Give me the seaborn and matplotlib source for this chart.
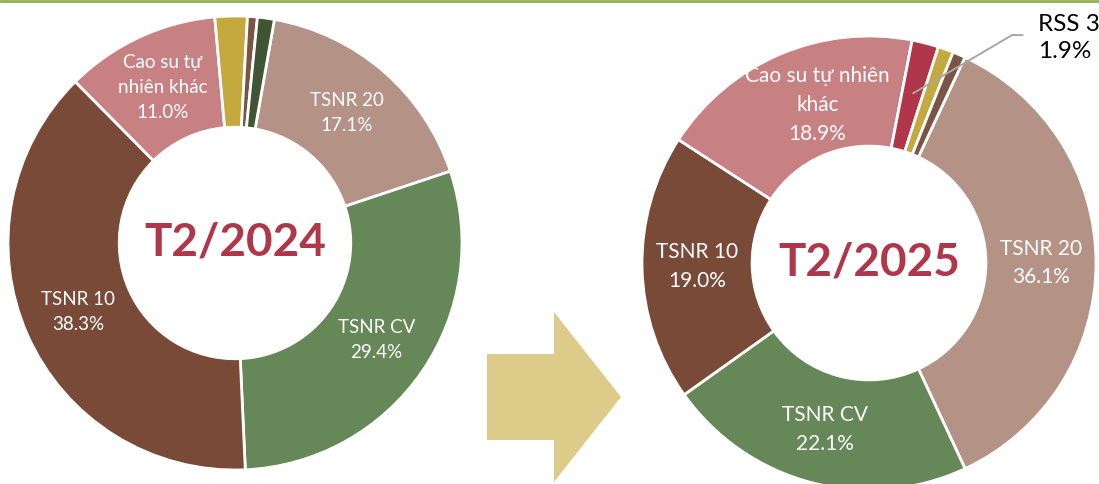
import numpy as np
import matplotlib
matplotlib.use("Agg")
import matplotlib.pyplot as plt
from matplotlib.patches import Polygon
import seaborn as sns

sns.set_theme(style="white")
plt.rcParams["font.family"] = ["Lato", "DejaVu Sans"]

# Rubber export structure by product type (share of volume, %)
categories_2024 = ["TSNR 20", "TSNR CV", "TSNR 10", "Cao su tự nhiên khác",
                   "Khác 1", "Khác 2", "Khác 3"]
shares_2024 = [17.1, 29.4, 38.3, 11.0, 2.3, 0.7, 1.2]
labels_2024 = ["TSNR 20", "TSNR CV", "TSNR 10", "Cao su tự\nnhiên khác",
               None, None, None]

categories_2025 = ["TSNR 20", "TSNR CV", "TSNR 10", "Cao su tự nhiên khác",
                   "RSS 3", "Khác 1", "Khác 2"]
shares_2025 = [36.1, 22.1, 19.0, 18.9, 1.9, 1.1, 0.9]
labels_2025 = ["TSNR 20", "TSNR CV", "TSNR 10", "Cao su tự nhiên\nkhác",
               None, None, None]

colors_2024 = ["#b49285", "#668757", "#7a4a38", "#c88183",
               "#c4a93f", "#7a5545", "#3f5533"]
colors_2025 = ["#b49285", "#668757", "#7a4a38", "#c88183",
               "#b0374a", "#c4a93f", "#7a5545"]

titles = ["T2/2024", "T2/2025"]

W, H = 1099, 484
fig = plt.figure(figsize=(W / 100, H / 100), dpi=100)


def px_axes(cx, cy, r):
    """Square axes whose data range (-1, 1) spans a circle of radius r px."""
    return fig.add_axes([(cx - r) / W, (H - cy - r) / H, 2 * r / W, 2 * r / H])


def donut(ax, values, colors, labels, title, start_cw, inner, fs, nudge=None):
    nudge = nudge or {}
    wedges, _ = ax.pie(values, colors=colors, startangle=90 - start_cw,
                       counterclock=False, radius=1.0,
                       wedgeprops=dict(width=1 - inner, edgecolor="white",
                                       linewidth=2.0))
    ax.set_xlim(-1, 1)
    ax.set_ylim(-1, 1)
    ax.set_aspect("equal")
    ax.axis("off")
    rmid = (1 + inner) / 2
    for i, (w, lab, v) in enumerate(zip(wedges, labels, values)):
        if lab is None:
            continue
        ang = np.deg2rad((w.theta1 + w.theta2) / 2)
        dx, dy = nudge.get(i, (0, 0))
        ax.text(rmid * np.cos(ang) + dx, rmid * np.sin(ang) + dy,
                f"{lab}\n{v:.1f}%", ha="center", va="center", color="white",
                fontsize=fs, linespacing=1.55)
    ax.text(0, 0, title, ha="center", va="center", color="#b0374a",
            fontsize=33, fontweight="bold")
    return wedges


ax1 = px_axes(235, 243, 227)
donut(ax1, shares_2024, colors_2024, labels_2024, titles[0], 10, 0.51, 13.5)

ax2 = px_axes(869, 263, 227)
w2 = donut(ax2, shares_2025, colors_2025, labels_2025, titles[1], 25, 0.515,
           15, nudge={3: (0.07, 0.0)})

# Callout for the thin RSS 3 slice: leader line from the slice to the label
i_rss = categories_2025.index("RSS 3")
rss = w2[i_rss]
a = np.deg2rad((rss.theta1 + rss.theta2) / 2)
r_tip = 0.77
ax2.plot([r_tip * np.cos(a), 0.63, 0.68], [r_tip * np.sin(a), 1.004, 1.004],
         color="#a6a6a6", lw=1.4, clip_on=False, solid_capstyle="butt")
ax2.text(0.745, 0.99, f"RSS 3\n{shares_2025[i_rss]:.1f}%", ha="left",
         va="center", fontsize=17.5, color="black", linespacing=1.35,
         clip_on=False)

# Overlay for the arrow and the top rule, in pixel coordinates
ov = fig.add_axes([0, 0, 1, 1], zorder=-1)
ov.set_xlim(0, W)
ov.set_ylim(H, 0)
ov.axis("off")
arrow = Polygon([(487, 354), (554, 354), (554, 312), (621, 397),
                 (554, 482), (554, 440), (487, 440)],
                closed=True, facecolor="#dccb89", edgecolor="none")
ov.add_patch(arrow)
ov.axhline(1, color="#92b050", lw=2)

fig.savefig("out.png", dpi=100)
